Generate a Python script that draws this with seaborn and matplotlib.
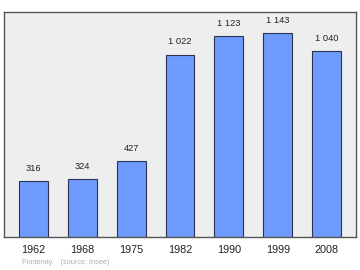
import matplotlib
matplotlib.use("Agg")
import matplotlib.pyplot as plt
import seaborn as sns
import pandas as pd

years = ["1962", "1968", "1975", "1982", "1990", "1999", "2008"]
population = [316, 324, 427, 1022, 1123, 1143, 1040]
footer_text = "Fontenay    (source: Insee)"

df = pd.DataFrame({"year": years, "pop": population})

sns.set_theme(style="white")
plt.rcParams['font.family'] = ['Liberation Sans', 'DejaVu Sans']

fig = plt.figure(figsize=(3.6, 2.7), dpi=100)
ax = fig.add_axes([4/360, 1 - 237/270, 352/360, 225/270])
sns.barplot(data=df, x="year", y="pop", ax=ax, color="#6f9bff", saturation=1,
            width=0.59, edgecolor="#2a3450", linewidth=0.8)
ax.set_facecolor("#eeeeee")
ax.set_xlim(-0.6, 6.6)
ax.set_ylim(0, 1260)
ax.set_xlabel("")
ax.set_ylabel("")
ax.set_yticks([])
ax.tick_params(axis="x", length=0, labelsize=7.8, pad=6, colors="#222222")
for s in ax.spines.values():
    s.set_color("#555555")
    s.set_linewidth(1.0)

for i, v in enumerate(population):
    lab = f"{v:,}".replace(",", " ")
    ax.text(i, v + 45, lab, ha="center", va="bottom", fontsize=6.7, color="#222222")

fig.text(22/360, 1 - 262/270, footer_text, fontsize=5.3, color="#b0b0b0", va="center")
fig.savefig("out.png", dpi=100)
